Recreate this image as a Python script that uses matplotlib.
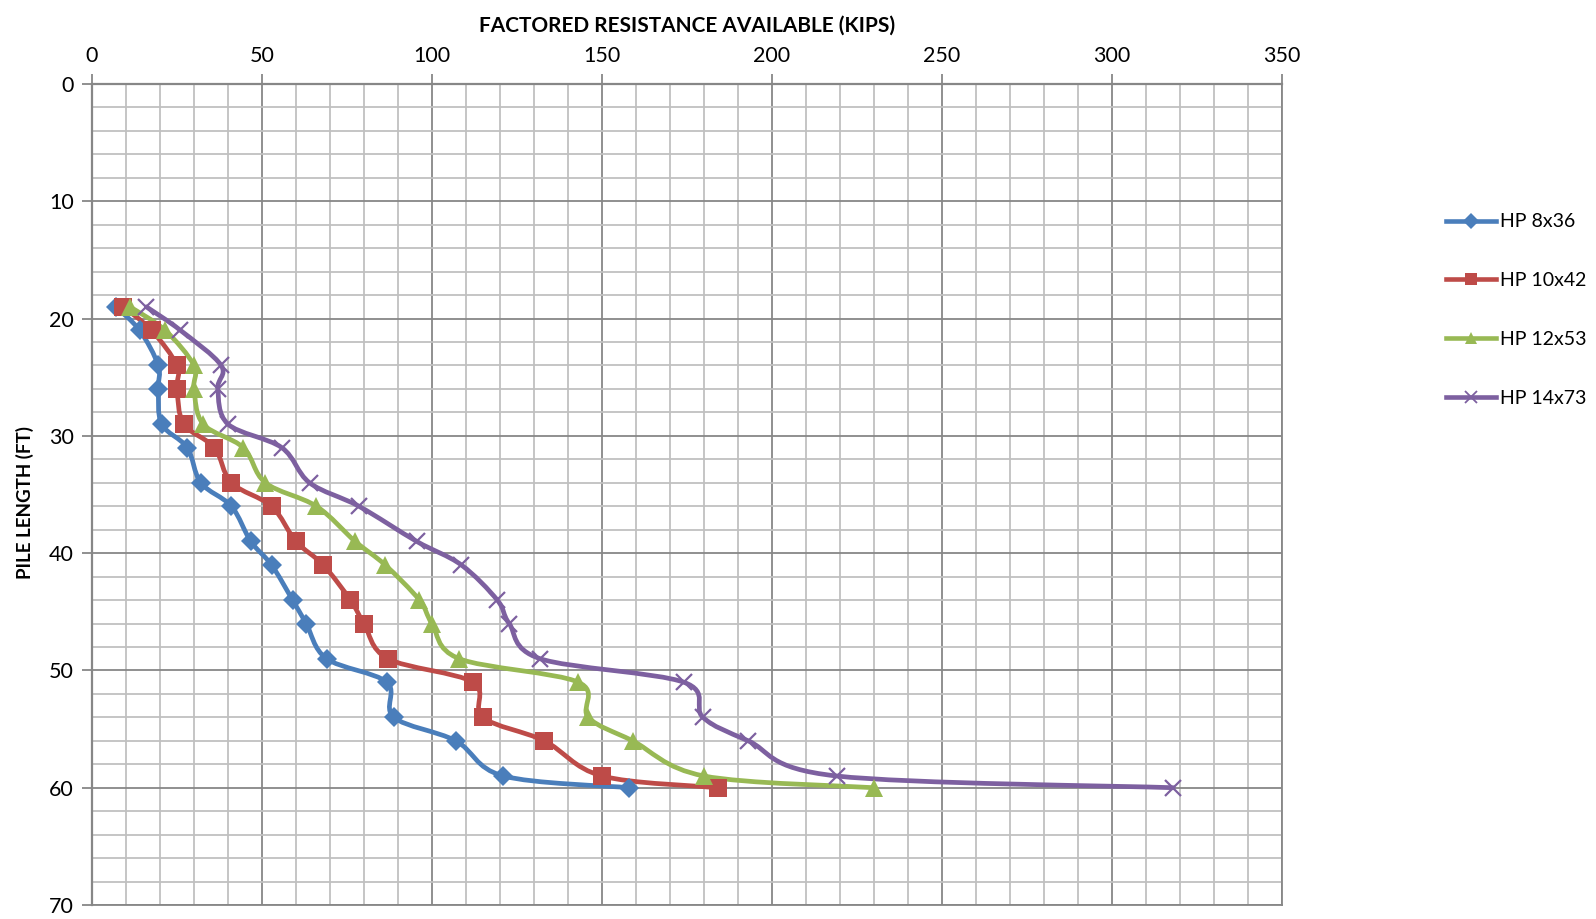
import numpy as np
import matplotlib
matplotlib.use("Agg")
import matplotlib.pyplot as plt
from matplotlib.path import Path
from matplotlib.patches import PathPatch
from matplotlib.lines import Line2D
from matplotlib.ticker import MultipleLocator

plt.rcParams['font.family'] = ['Lato', 'DejaVu Sans']

# pile length (ft) where each value was computed
pile_length = [19, 21, 24, 26, 29, 31, 34, 36, 39, 41, 44, 46, 49, 51, 54, 56, 59, 60]

# factored resistance available (kips) for each section
hp8x36 = [7, 14, 19.5, 19.5, 20.5, 28, 32, 41, 46.7, 52.8, 59, 63, 69, 86.7, 88.8, 107, 121, 158]
hp10x42 = [9.2, 17.5, 25, 25, 27, 36, 41, 52.8, 60, 68, 76, 80, 87, 112, 115, 133, 150, 184]
hp12x53 = [11.2, 21.5, 30, 30, 32.7, 44.5, 51, 66, 77.4, 86.2, 96.3, 100, 108, 143, 146, 159, 180, 230]
hp14x73 = [16, 26, 38, 37, 40, 55.8, 64, 78.5, 95.5, 108.6, 119.2, 122.7, 131.8, 174, 179.7, 193, 219, 318]

labels = ['HP 8x36', 'HP 10x42', 'HP 12x53', 'HP 14x73']
colors = ['#4A7EBB', '#BE4B48', '#98B954', '#7D60A0']
markers = ['D', 's', '^', 'x']
msizes = [10.5, 12.5, 13, 12]


def smooth_path(xs, ys):
    # Excel style smoothed line: cubic bezier through every point (catmull-rom)
    pts = np.column_stack([xs, ys]).astype(float)
    verts = [pts[0]]
    codes = [Path.MOVETO]
    n = len(pts)
    for i in range(n - 1):
        p0 = pts[i - 1] if i > 0 else pts[i]
        p1 = pts[i]
        p2 = pts[i + 1]
        p3 = pts[i + 2] if i + 2 < n else pts[i + 1]
        c1 = p1 + (p2 - p0) / 6.0
        c2 = p2 - (p3 - p1) / 6.0
        verts += [c1, c2, p2]
        codes += [Path.CURVE4] * 3
    return Path(verts, codes)


fig = plt.figure(figsize=(15.96, 9.19), dpi=100)
ax = fig.add_axes([92 / 1596, 1 - 905 / 919, (1282 - 92) / 1596, (905 - 84) / 919])

series = [hp8x36, hp10x42, hp12x53, hp14x73]
for vals, lab, col, mk, ms in zip(series, labels, colors, markers, msizes):
    patch = PathPatch(smooth_path(vals, pile_length), fill=False, edgecolor=col,
                      linewidth=3.4, capstyle='round', joinstyle='round', zorder=3)
    ax.add_patch(patch)
    if mk == 'x':
        ax.plot(vals, pile_length, linestyle='none', marker=mk, markersize=ms,
                markeredgewidth=1.6, color=col, zorder=4)
    else:
        ax.plot(vals, pile_length, linestyle='none', marker=mk, markersize=ms,
                markeredgewidth=0, color=col, zorder=4)

ax.set_xlim(0, 350)
ax.set_ylim(70, 0)
ax.xaxis.tick_top()
ax.xaxis.set_label_position('top')
ax.xaxis.set_major_locator(MultipleLocator(50))
ax.xaxis.set_minor_locator(MultipleLocator(10))
ax.yaxis.set_major_locator(MultipleLocator(10))
ax.yaxis.set_minor_locator(MultipleLocator(2))

ax.grid(which='major', color='#878787', linewidth=1.3, zorder=0)
ax.grid(which='minor', color='#C0C0C0', linewidth=1.3, zorder=0)
ax.set_axisbelow(True)
for s in ax.spines.values():
    s.set_color('#878787')
    s.set_linewidth(1.3)
ax.spines['left'].set_linewidth(1.6)
ax.spines['top'].set_linewidth(1.6)

ax.tick_params(which='major', length=7, width=1.3, color='#878787', labelsize=15.5, pad=6)
ax.tick_params(which='minor', length=0)

ax.set_xlabel('FACTORED RESISTANCE AVAILABLE (KIPS)', fontsize=15, fontweight='bold', labelpad=10)
ax.set_ylabel('PILE LENGTH (FT)', fontsize=13.5, fontweight='bold')
ax.yaxis.set_label_coords(-0.049, 0.49)

# legend on the right side
handles = []
for lab, col, mk in zip(labels, colors, markers):
    if mk == 'x':
        handles.append(Line2D([], [], color=col, lw=3.3, marker=mk, markersize=9, markeredgewidth=1.3, label=lab))
    else:
        handles.append(Line2D([], [], color=col, lw=3.3, marker=mk, markersize=8.5, markeredgewidth=0, label=lab))
fig.legend(handles=handles, loc='upper left', bbox_to_anchor=(1428 / 1596, 1 - 196 / 919),
           frameon=False, fontsize=14, handlelength=2.6, handletextpad=0.2, labelspacing=2.15)

plt.savefig('out.png', dpi=100)
